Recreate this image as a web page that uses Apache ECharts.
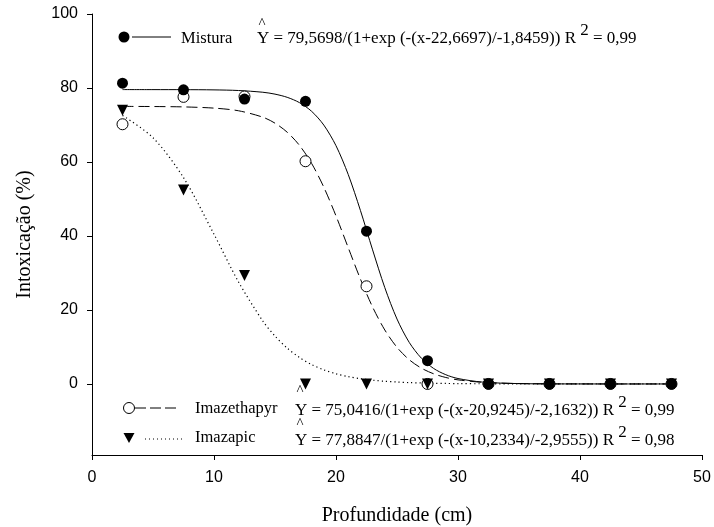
<!DOCTYPE html>
<html>
<head>
<meta charset="utf-8">
<script src="https://cdn.jsdelivr.net/npm/echarts@6/dist/echarts.min.js"></script>
<style>html,body{margin:0;padding:0;background:#fff}#c{width:714px;height:527px}</style>
</head>
<body>
<div id="c"></div>
<script>
// ---- data ----
const depth = [2.5, 7.5, 12.5, 17.5, 22.5, 27.5, 32.5, 37.5, 42.5, 47.5];
const mistura = [81.3, 79.5, 77.0, 76.4, 41.3, 6.3, 0, 0, 0, 0];
const imazethapyr = [70.2, 77.6, 77.7, 60.2, 26.4, 0, 0, 0, 0, 0];
const imazapic = [74.0, 52.4, 29.3, 0, 0, 0, 0, 0, 0, 0];

// fitted curves
const curveX = [2.5, 5, 7.5, 10, 12, 14, 15, 16, 17, 18, 19, 20, 21, 22, 23, 24, 25, 26, 27, 28, 29, 30, 32, 35, 40, 47.5];
const curveMistura = [79.57, 79.56, 79.55, 79.49, 79.32, 78.85, 78.34, 77.48, 76.05, 73.70, 69.98, 64.40, 56.64, 46.92, 36.24, 26.04, 17.55, 11.25, 6.96, 4.20, 2.50, 1.47, 0.51, 0.10, 0.01, 0];
const curveImazethapyr = [75.03, 74.99, 74.89, 74.56, 73.85, 72.11, 70.49, 68.05, 64.52, 59.62, 53.19, 45.42, 36.86, 28.38, 20.79, 14.59, 9.90, 6.56, 4.27, 2.75, 1.75, 1.11, 0.45, 0.11, 0.01, 0];
const curveImazapic = [72.58, 66.56, 55.77, 40.48, 27.64, 17.02, 12.94, 9.69, 7.17, 5.25, 3.82, 2.76, 1.99, 1.43, 1.02, 0.73, 0.52, 0.37, 0.27, 0.19, 0.14, 0.10, 0.05, 0.02, 0.00, 0];

const yTicks = [0, 20, 40, 60, 80, 100];
const seriesNames = ['Mistura', 'Imazethapyr', 'Imazapic'];
const equations = [
  '79,5698/(1+exp (-(x-22,6697)/-1,8459))',
  '75,0416/(1+exp (-(x-20,9245)/-2,1632))',
  '77,8847/(1+exp (-(x-10,2334)/-2,9555))'
];
const r2 = ['0,99', '0,99', '0,98'];

const pairs = (xs, ys) => xs.map((x, i) => [x, ys[i]]);
const SERIF = 'Liberation Serif';
const SANS = 'Liberation Sans';

const chart = echarts.init(document.getElementById('c'));

function eqText(i) {
  return '{n|Y = ' + equations[i] + ' R }{s|2}{n| = ' + r2[i] + '}';
}
const eqRich = {
  n: {fontFamily: SERIF, fontSize: 17, fill: '#000'},
  s: {fontFamily: SERIF, fontSize: 17, fill: '#000', padding: [0, 0, 16, 0]}
};

function legendText(x, y, txt) {
  return {type: 'text', x: x, y: y, style: {text: txt, fontFamily: SERIF, fontSize: 16.5, fill: '#000', verticalAlign: 'middle', align: 'left'}, z: 100};
}
function eq(x, y, i, hatY) {
  return [
    {type: 'text', x: x, y: y, style: {text: eqText(i), rich: eqRich, verticalAlign: 'middle', align: 'left', fill: '#000'}, z: 100},
    {type: 'text', x: x + 1.5, y: hatY, style: {text: '^', fontFamily: SERIF, fontSize: 15, fill: '#000', verticalAlign: 'middle', align: 'left'}, z: 100}
  ];
}

const graphic = [
  // Mistura legend
  {type: 'circle', shape: {cx: 124, cy: 37, r: 5.5}, style: {fill: '#000'}, z: 100},
  {type: 'line', shape: {x1: 132, y1: 37, x2: 171, y2: 37}, style: {stroke: '#000', lineWidth: 1}, z: 100},
  legendText(181, 39, seriesNames[0]),
  ...eq(257, 39, 0, 24),
  // Imazethapyr legend
  {type: 'circle', shape: {cx: 129, cy: 408, r: 5.5}, style: {fill: '#fff', stroke: '#000', lineWidth: 1}, z: 100},
  {type: 'line', shape: {x1: 135, y1: 408, x2: 178, y2: 408}, style: {stroke: '#000', lineWidth: 1, lineDash: [11, 4]}, z: 100},
  legendText(195, 409, seriesNames[1]),
  ...eq(295, 411, 1, 391),
  // Imazapic legend
  {type: 'polygon', shape: {points: [[123.5, 433], [134.5, 433], [129, 443]]}, style: {fill: '#000'}, z: 100},
  {type: 'line', shape: {x1: 145, y1: 439, x2: 183, y2: 439}, style: {stroke: '#000', lineWidth: 1, lineDash: [1, 3]}, z: 100},
  legendText(195, 438, seriesNames[2]),
  ...eq(295, 441, 2, 424)
];

chart.setOption({
  animation: false,
  backgroundColor: '#fff',
  grid: {left: 92, right: 12, top: 14, bottom: 72, containLabel: false, outerBoundsMode: 'none'},
  xAxis: {
    type: 'value', min: 0, max: 50, interval: 10,
    name: 'Profundidade (cm)', nameLocation: 'middle', nameGap: 51,
    nameTextStyle: {fontFamily: SERIF, fontSize: 20, color: '#000'},
    axisLine: {show: true, onZero: false, lineStyle: {color: '#000', width: 1}},
    axisTick: {show: true, inside: false, length: 5, lineStyle: {color: '#000'}},
    axisLabel: {fontFamily: SANS, fontSize: 16, color: '#000', margin: 15},
    splitLine: {show: false}
  },
  yAxis: {
    type: 'value', min: -19.2, max: 100,
    name: 'Intoxicação (%)', nameLocation: 'middle', nameGap: 57, nameRotate: 90,
    nameTextStyle: {fontFamily: SERIF, fontSize: 20, color: '#000'},
    axisLine: {show: true, onZero: false, lineStyle: {color: '#000', width: 1}},
    axisTick: {show: true, inside: false, length: 5, lineStyle: {color: '#000'}, customValues: yTicks},
    axisLabel: {fontFamily: SANS, fontSize: 16, color: '#000', margin: 14, customValues: yTicks},
    splitLine: {show: false}
  },
  graphic: graphic,
  series: [
    {name: 'fit ' + seriesNames[0], type: 'line', data: pairs(curveX, curveMistura), smooth: 0.3, showSymbol: false, symbol: 'none', lineStyle: {color: '#000', width: 1, type: 'solid'}, z: 2, silent: true},
    {name: 'fit ' + seriesNames[1], type: 'line', data: pairs(curveX, curveImazethapyr), smooth: 0.3, showSymbol: false, symbol: 'none', lineStyle: {color: '#000', width: 1, type: [11, 5]}, z: 2, silent: true},
    {name: 'fit ' + seriesNames[2], type: 'line', data: pairs(curveX, curveImazapic), smooth: 0.3, showSymbol: false, symbol: 'none', lineStyle: {color: '#000', width: 1.2, type: [1.2, 3]}, z: 2, silent: true},
    {name: seriesNames[1], type: 'scatter', data: pairs(depth, imazethapyr), symbol: 'circle', symbolSize: 11, itemStyle: {color: '#fff', borderColor: '#000', borderWidth: 1, opacity: 1}, z: 3},
    {name: seriesNames[2], type: 'scatter', data: pairs(depth, imazapic), symbol: 'triangle', symbolRotate: 180, symbolSize: 11, itemStyle: {color: '#000', opacity: 1}, z: 4},
    {name: seriesNames[0], type: 'scatter', data: pairs(depth, mistura), symbol: 'circle', symbolSize: 11, itemStyle: {color: '#000', opacity: 1}, z: 5}
  ]
});
</script>
</body>
</html>
